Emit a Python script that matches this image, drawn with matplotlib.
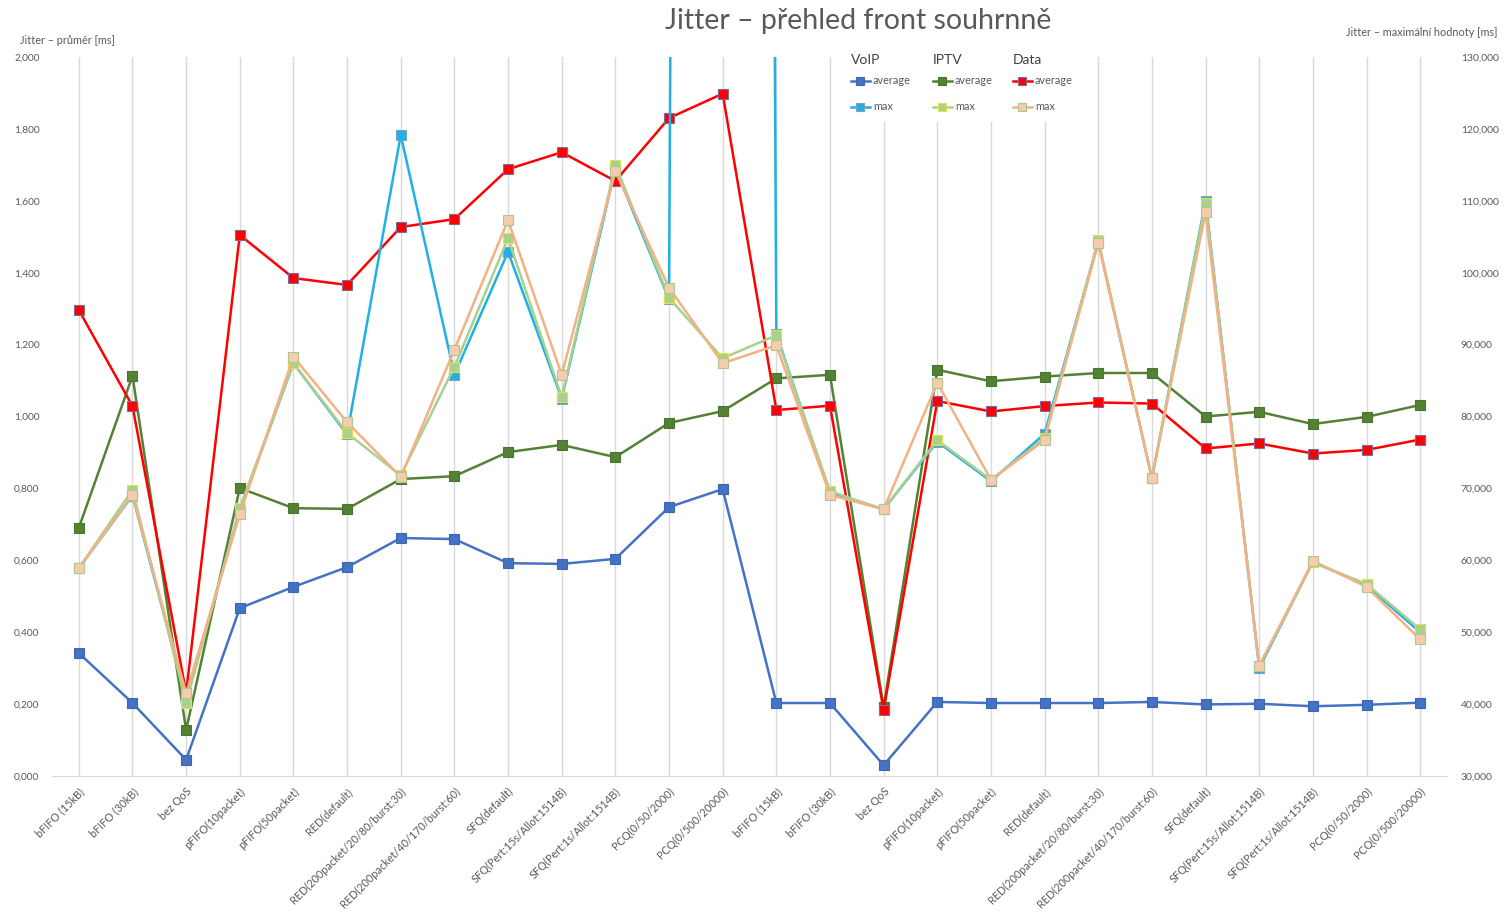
import matplotlib
matplotlib.use("Agg")
import matplotlib.pyplot as plt
from matplotlib.patches import Rectangle
from matplotlib.ticker import FixedLocator, FuncFormatter
import numpy as np

plt.rcParams['font.family'] = ['Lato', 'DejaVu Sans']

queues = ["bFIFO (15kB)", "bFIFO (30kB)", "bez QoS", "pFIFO(10packet)", "pFIFO(50packet)",
          "RED(default)", "RED(200packet/20/80/burst:30)", "RED(200packet/40/170/burst:60)",
          "SFQ(default)", "SFQ(Pert:15s/Allot:1514B)", "SFQ(Pert:1s/Allot:1514B)",
          "PCQ(0/50/2000)", "PCQ(0/500/20000)"]
categories = queues + queues

# averages [ms] - left axis
voip_avg = [0.342, 0.203, 0.045, 0.467, 0.526, 0.581, 0.662, 0.659, 0.592, 0.590, 0.604, 0.748, 0.798,
            0.203, 0.203, 0.030, 0.206, 0.203, 0.203, 0.203, 0.206, 0.199, 0.201, 0.194, 0.198, 0.204]
iptv_avg = [0.690, 1.113, 0.128, 0.801, 0.745, 0.743, 0.826, 0.834, 0.901, 0.921, 0.887, 0.982, 1.015,
            1.106, 1.116, 0.192, 1.130, 1.098, 1.111, 1.121, 1.121, 1.000, 1.013, 0.979, 0.999, 1.032]
data_avg = [1.296, 1.029, 0.231, 1.505, 1.385, 1.366, 1.527, 1.549, 1.688, 1.735, 1.655, 1.830, 1.898,
            1.018, 1.030, 0.183, 1.043, 1.014, 1.029, 1.039, 1.036, 0.911, 0.925, 0.897, 0.907, 0.936]

# maxima [ms] - right axis
voip_max = [58900, 69000, 40800, 67000, 87400, 77500, 119150, 85800, 102900, 82500, 114500, 96300, 1500000,
            91500, 69300, 67100, 76500, 71000, 77600, 104300, 71400, 110000, 45000, 59800, 56500, 50000]
iptv_max = [58900, 69800, 40200, 67300, 87400, 77700, 71800, 86900, 104800, 82700, 115000, 96500, 88100,
            91300, 69600, 67100, 76700, 71200, 77000, 104500, 71450, 109700, 45300, 59700, 56700, 50400]
data_max = [58900, 69100, 41500, 66400, 88300, 79200, 71600, 89300, 107300, 85800, 114100, 97900, 87400,
            89900, 69100, 67100, 84700, 71200, 76700, 104100, 71450, 108400, 45300, 59900, 56300, 49000]

left_ticks = [0.0, 0.2, 0.4, 0.6, 0.8, 1.0, 1.2, 1.4, 1.6, 1.8, 2.0]
right_ticks = [30000, 40000, 50000, 60000, 70000, 80000, 90000, 100000, 110000, 120000, 130000]

TXT = '#595959'
GRID = '#d9d9d9'

W, H = 1505, 914
fig = plt.figure(figsize=(W / 100, H / 100), dpi=100)
ax = fig.add_axes([52 / W, 1 - 776 / H, 1395 / W, 719 / H])
ax2 = ax.twinx()

x = np.arange(len(categories))

styles = {
    'voip_avg': dict(color='#4472C4', mfc='#4472C4', mec='#3E67B1'),
    'iptv_avg': dict(color='#548235', mfc='#548235', mec='#4A7430'),
    'data_avg': dict(color='#FF0000', mfc='#FF0000', mec='#7E6A9C'),
    'voip_max': dict(color='#1FB0E6', mfc='#1FB0E6', mec='#7FA3B8'),
    'iptv_max': dict(color='#A9D18E', mfc='#A9D18E', mec='#E6E04A'),
    'data_max': dict(color='#F4B183', mfc='#F8CBAD', mec='#A9C98E'),
}
lw = 1.8
ms = 7.5

h_va, = ax.plot(x, voip_avg, lw=lw, marker='s', ms=ms, mew=0.8, **styles['voip_avg'], zorder=3)
h_ia, = ax.plot(x, iptv_avg, lw=lw, marker='s', ms=ms, mew=0.8, **styles['iptv_avg'], zorder=3)
h_da, = ax.plot(x, data_avg, lw=lw, marker='s', ms=ms, mew=0.8, **styles['data_avg'], zorder=3)
h_vm, = ax2.plot(x, voip_max, lw=lw, marker='s', ms=ms, mew=0.8, **styles['voip_max'], zorder=3)
h_im, = ax2.plot(x, iptv_max, lw=lw, marker='s', ms=ms, mew=0.8, **styles['iptv_max'], zorder=3)
h_dm, = ax2.plot(x, data_max, lw=lw, marker='s', ms=ms, mew=0.8, **styles['data_max'], zorder=3)

ax.set_xlim(-0.5, len(categories) - 0.5)
ax.set_ylim(0, 2.0)
ax2.set_ylim(30000, 130000)

ax.yaxis.set_major_locator(FixedLocator(left_ticks))
ax.yaxis.set_major_formatter(FuncFormatter(lambda v, p: f"{v:.3f}".replace('.', ',')))
ax2.yaxis.set_major_locator(FixedLocator(right_ticks))
ax2.yaxis.set_major_formatter(FuncFormatter(lambda v, p: f"{int(round(v)):,}"))

ax.set_xticks(x)
ax.set_xticklabels(categories, rotation=45, ha='right', rotation_mode='anchor', fontsize=7.8, color=TXT)
ax.tick_params(axis='x', length=0, pad=7)
ax.tick_params(axis='y', length=0, pad=9, labelsize=7.3, labelcolor=TXT)
ax2.tick_params(axis='y', length=0, pad=10, labelsize=7.5, labelcolor=TXT)

ax.grid(axis='x', color=GRID, linewidth=1)
ax.grid(axis='y', visible=False)
ax.set_axisbelow(True)
for s in ['top', 'left', 'right']:
    ax.spines[s].set_visible(False)
ax.spines['bottom'].set_color(GRID)
for s in ax2.spines.values():
    s.set_visible(False)

# white legend area covering gridlines
ax2.add_patch(Rectangle(((840 - 52) / 1395, (776 - 122) / 719), (1092 - 840) / 1395, 0.2,
                        transform=ax2.transAxes, facecolor='white', edgecolor='none',
                        zorder=1.5, clip_on=False))

# Titles / axis labels
fig.text(858 / W, 1 - 21 / H, "Jitter – přehled front souhrnně", ha='center', va='center',
         fontsize=20.5, color=TXT)
fig.text(20 / W, 1 - 40 / H, "Jitter – průměr [ms]", ha='left', va='center', fontsize=7.8, color=TXT)
fig.text(1498 / W, 1 - 32 / H, "Jitter – maximální hodnoty [ms]", ha='right', va='center',
         fontsize=7.8, color=TXT)

# Legends: one group per service
groups = [("VoIP", h_va, h_vm, 843), ("IPTV", h_ia, h_im, 925), ("Data", h_da, h_dm, 1005)]
for title, ha_, hm_, xpx in groups:
    leg = fig.legend([ha_, hm_], ["average", "max"], loc='upper left',
                     bbox_to_anchor=(xpx / W, 1 - 46 / H), frameon=False,
                     title=title, title_fontsize=10, fontsize=7.8, alignment='left',
                     handlelength=1.8, handletextpad=0.25, labelspacing=1.4,
                     borderpad=0.2, markerscale=0.75)
    for t in leg.get_texts():
        t.set_color(TXT)
    leg.get_title().set_color('#404040')
    leg._legend_box.sep = 7

fig.savefig("out.png", dpi=100)
